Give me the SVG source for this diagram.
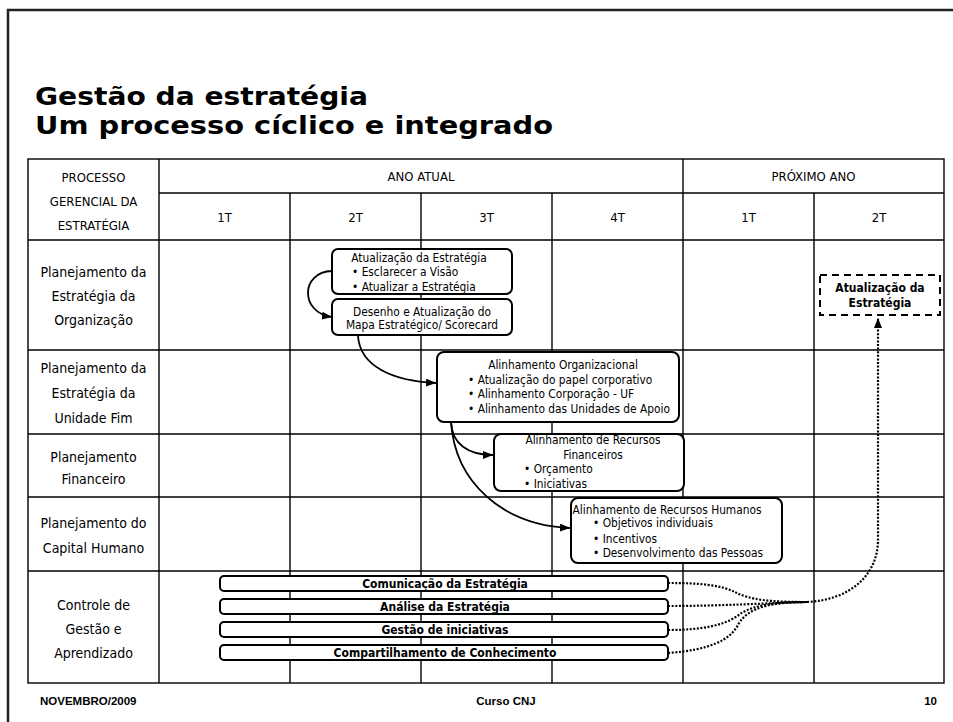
<svg xmlns="http://www.w3.org/2000/svg" width="953" height="722" viewBox="0 0 953 722">
<defs>
<style>
.f{font-family:"DejaVu Sans Condensed","DejaVu Sans",sans-serif;font-stretch:condensed;fill:#000}
.title{font-family:"DejaVu Sans",sans-serif;font-stretch:normal;font-size:24.5px;font-weight:bold}
.hd{font-size:13px}
.rl{font-size:14px}
.bx{font-size:11.8px}
.bb{font-size:12px;font-weight:bold}
.ft{font-family:"Liberation Sans",Arial,sans-serif;font-size:11.5px;font-weight:bold;fill:#000}
.grid{stroke:#000;stroke-width:1.4;fill:none}
.box{fill:#fff;stroke:#000;stroke-width:2}
.bar{fill:#fff;stroke:#000;stroke-width:2}
.dash{fill:#fff;stroke:#000;stroke-width:2;stroke-dasharray:7 5}
.arr{fill:none;stroke:#000;stroke-width:1.8}
.dot{fill:none;stroke:#000;stroke-width:2.2;stroke-dasharray:2 1.6}
.m{text-anchor:middle}
</style>
<marker id="ah" viewBox="0 0 10 8" refX="10" refY="4" markerWidth="10" markerHeight="8" markerUnits="userSpaceOnUse" orient="auto">
<path d="M0,0 L10,4 L0,8 z" fill="#000"/>
</marker>
</defs>
<rect x="0" y="0" width="953" height="722" fill="#fff"/>
<path d="M8,730 L8,10 L960,10" fill="none" stroke="#222" stroke-width="2.5"/>
<g id="title">
<text class="f title" x="35" y="105" textLength="333" lengthAdjust="spacingAndGlyphs">Gestão da estratégia</text>
<text class="f title" x="35" y="134" textLength="518" lengthAdjust="spacingAndGlyphs">Um processo cíclico e integrado</text>
</g>
<g id="table">
<rect class="grid" x="28" y="159" width="916" height="524"/>
<line class="grid" x1="159" y1="193" x2="944" y2="193"/>
<line class="grid" x1="28" y1="240" x2="944" y2="240"/>
<line class="grid" x1="28" y1="350" x2="944" y2="350"/>
<line class="grid" x1="28" y1="434" x2="944" y2="434"/>
<line class="grid" x1="28" y1="497" x2="944" y2="497"/>
<line class="grid" x1="28" y1="571" x2="944" y2="571"/>
<line class="grid" x1="159" y1="159" x2="159" y2="683"/>
<line class="grid" x1="683" y1="159" x2="683" y2="683"/>
<line class="grid" x1="290" y1="193" x2="290" y2="683"/>
<line class="grid" x1="421" y1="193" x2="421" y2="683"/>
<line class="grid" x1="552" y1="193" x2="552" y2="683"/>
<line class="grid" x1="814" y1="193" x2="814" y2="683"/>
<text class="f hd m" x="93.5" y="182">PROCESSO</text>
<text class="f hd m" x="93.5" y="206">GERENCIAL DA</text>
<text class="f hd m" x="93.5" y="230">ESTRATÉGIA</text>
<text class="f hd m" x="421" y="181">ANO ATUAL</text>
<text class="f hd m" x="813.5" y="181">PRÓXIMO ANO</text>
<text class="f hd m" x="224.5" y="222">1T</text>
<text class="f hd m" x="355.5" y="222">2T</text>
<text class="f hd m" x="486.5" y="222">3T</text>
<text class="f hd m" x="617.5" y="222">4T</text>
<text class="f hd m" x="748.5" y="222">1T</text>
<text class="f hd m" x="879" y="222">2T</text>
<text class="f rl m" x="93.5" y="277">Planejamento da</text>
<text class="f rl m" x="93.5" y="301">Estratégia da</text>
<text class="f rl m" x="93.5" y="325">Organização</text>
<text class="f rl m" x="93.5" y="373">Planejamento da</text>
<text class="f rl m" x="93.5" y="398">Estratégia da</text>
<text class="f rl m" x="93.5" y="423">Unidade Fim</text>
<text class="f rl m" x="93.5" y="462">Planejamento</text>
<text class="f rl m" x="93.5" y="484">Financeiro</text>
<text class="f rl m" x="93.5" y="528">Planejamento do</text>
<text class="f rl m" x="93.5" y="553">Capital Humano</text>
<text class="f rl m" x="93.5" y="610">Controle de</text>
<text class="f rl m" x="93.5" y="634">Gestão e</text>
<text class="f rl m" x="93.5" y="658">Aprendizado</text>
</g>
<g id="connectors">
<path class="arr" d="M332,271 C300,272 300,313 332,317" marker-end="url(#ah)"/>
<path class="arr" d="M358,336 C360,366 392,381 436,383" marker-end="url(#ah)"/>
<path class="arr" d="M451,422 C452,444 468,455 493,455" marker-end="url(#ah)"/>
<path class="arr" d="M451,422 C455,482 502,525 570,528" marker-end="url(#ah)"/>
<path class="dot" d="M668,583 C700,583 720,585 735,592 C750,600 770,602 807,602"/>
<path class="dot" d="M668,606 C720,606 770,603 807,602"/>
<path class="dot" d="M668,630 C700,630 725,626 740,614 C755,604 780,602 807,602"/>
<path class="dot" d="M668,653 C710,650 730,640 738,625 C748,606 775,602 807,602"/>
<path class="dot" d="M807,602 C850,600 878,575 878,540 L878,318" marker-end="url(#ah)"/>
</g>
<g id="box-atualizacao">
<rect class="box" x="332" y="249" width="180" height="45" rx="6"/>
<text class="f bx m" x="419" y="262">Atualização da Estratégia</text>
<text class="f bx" x="352" y="276">• Esclarecer a Visão</text>
<text class="f bx" x="352" y="291">• Atualizar a Estratégia</text>
</g>
<g id="box-desenho">
<rect class="box" x="332" y="299" width="180" height="36" rx="6"/>
<text class="f bx m" x="422" y="316">Desenho e Atualização do</text>
<text class="f bx m" x="422" y="329">Mapa Estratégico/ Scorecard</text>
</g>
<g id="box-alinhamento-org">
<rect class="box" x="437" y="352" width="242" height="70" rx="7"/>
<text class="f bx m" x="563" y="369">Alinhamento Organizacional</text>
<text class="f bx" x="468" y="384">• Atualização do papel corporativo</text>
<text class="f bx" x="468" y="398">• Alinhamento Corporação - UF</text>
<text class="f bx" x="468" y="413">• Alinhamento das Unidades de Apoio</text>
</g>
<g id="box-recursos-fin">
<rect class="box" x="494" y="434" width="190" height="57" rx="7"/>
<text class="f bx m" x="593" y="444">Alinhamento de Recursos</text>
<text class="f bx m" x="593" y="459">Financeiros</text>
<text class="f bx" x="524" y="473">• Orçamento</text>
<text class="f bx" x="524" y="488">• Iniciativas</text>
</g>
<g id="box-recursos-hum">
<rect class="box" x="571" y="498" width="211" height="65" rx="7"/>
<text class="f bx m" x="667" y="514">Alinhamento de Recursos Humanos</text>
<text class="f bx" x="593" y="527">• Objetivos individuais</text>
<text class="f bx" x="593" y="543">• Incentivos</text>
<text class="f bx" x="593" y="557">• Desenvolvimento das Pessoas</text>
</g>
<g id="box-proximo">
<rect class="dash" x="820" y="275" width="120" height="40"/>
<text class="f bb m" x="880" y="292">Atualização da</text>
<text class="f bb m" x="880" y="307">Estratégia</text>
</g>
<g id="bar-comunicacao">
<rect class="bar" x="220" y="576" width="448" height="15" rx="4"/>
<text class="f bb m" x="445" y="588">Comunicação da Estratégia</text>
</g>
<g id="bar-analise">
<rect class="bar" x="220" y="599" width="448" height="15" rx="4"/>
<text class="f bb m" x="445" y="611">Análise da Estratégia</text>
</g>
<g id="bar-gestao">
<rect class="bar" x="220" y="622" width="448" height="15" rx="4"/>
<text class="f bb m" x="445" y="634">Gestão de iniciativas</text>
</g>
<g id="bar-compartilhamento">
<rect class="bar" x="220" y="645" width="448" height="15" rx="4"/>
<text class="f bb m" x="445" y="657">Compartilhamento de Conhecimento</text>
</g>
<g id="footer">
<text class="ft" x="40" y="705">NOVEMBRO/2009</text>
<text class="ft" x="506" y="705" text-anchor="middle">Curso CNJ</text>
<text class="ft" x="937" y="705" text-anchor="end">10</text>
</g>
</svg>
